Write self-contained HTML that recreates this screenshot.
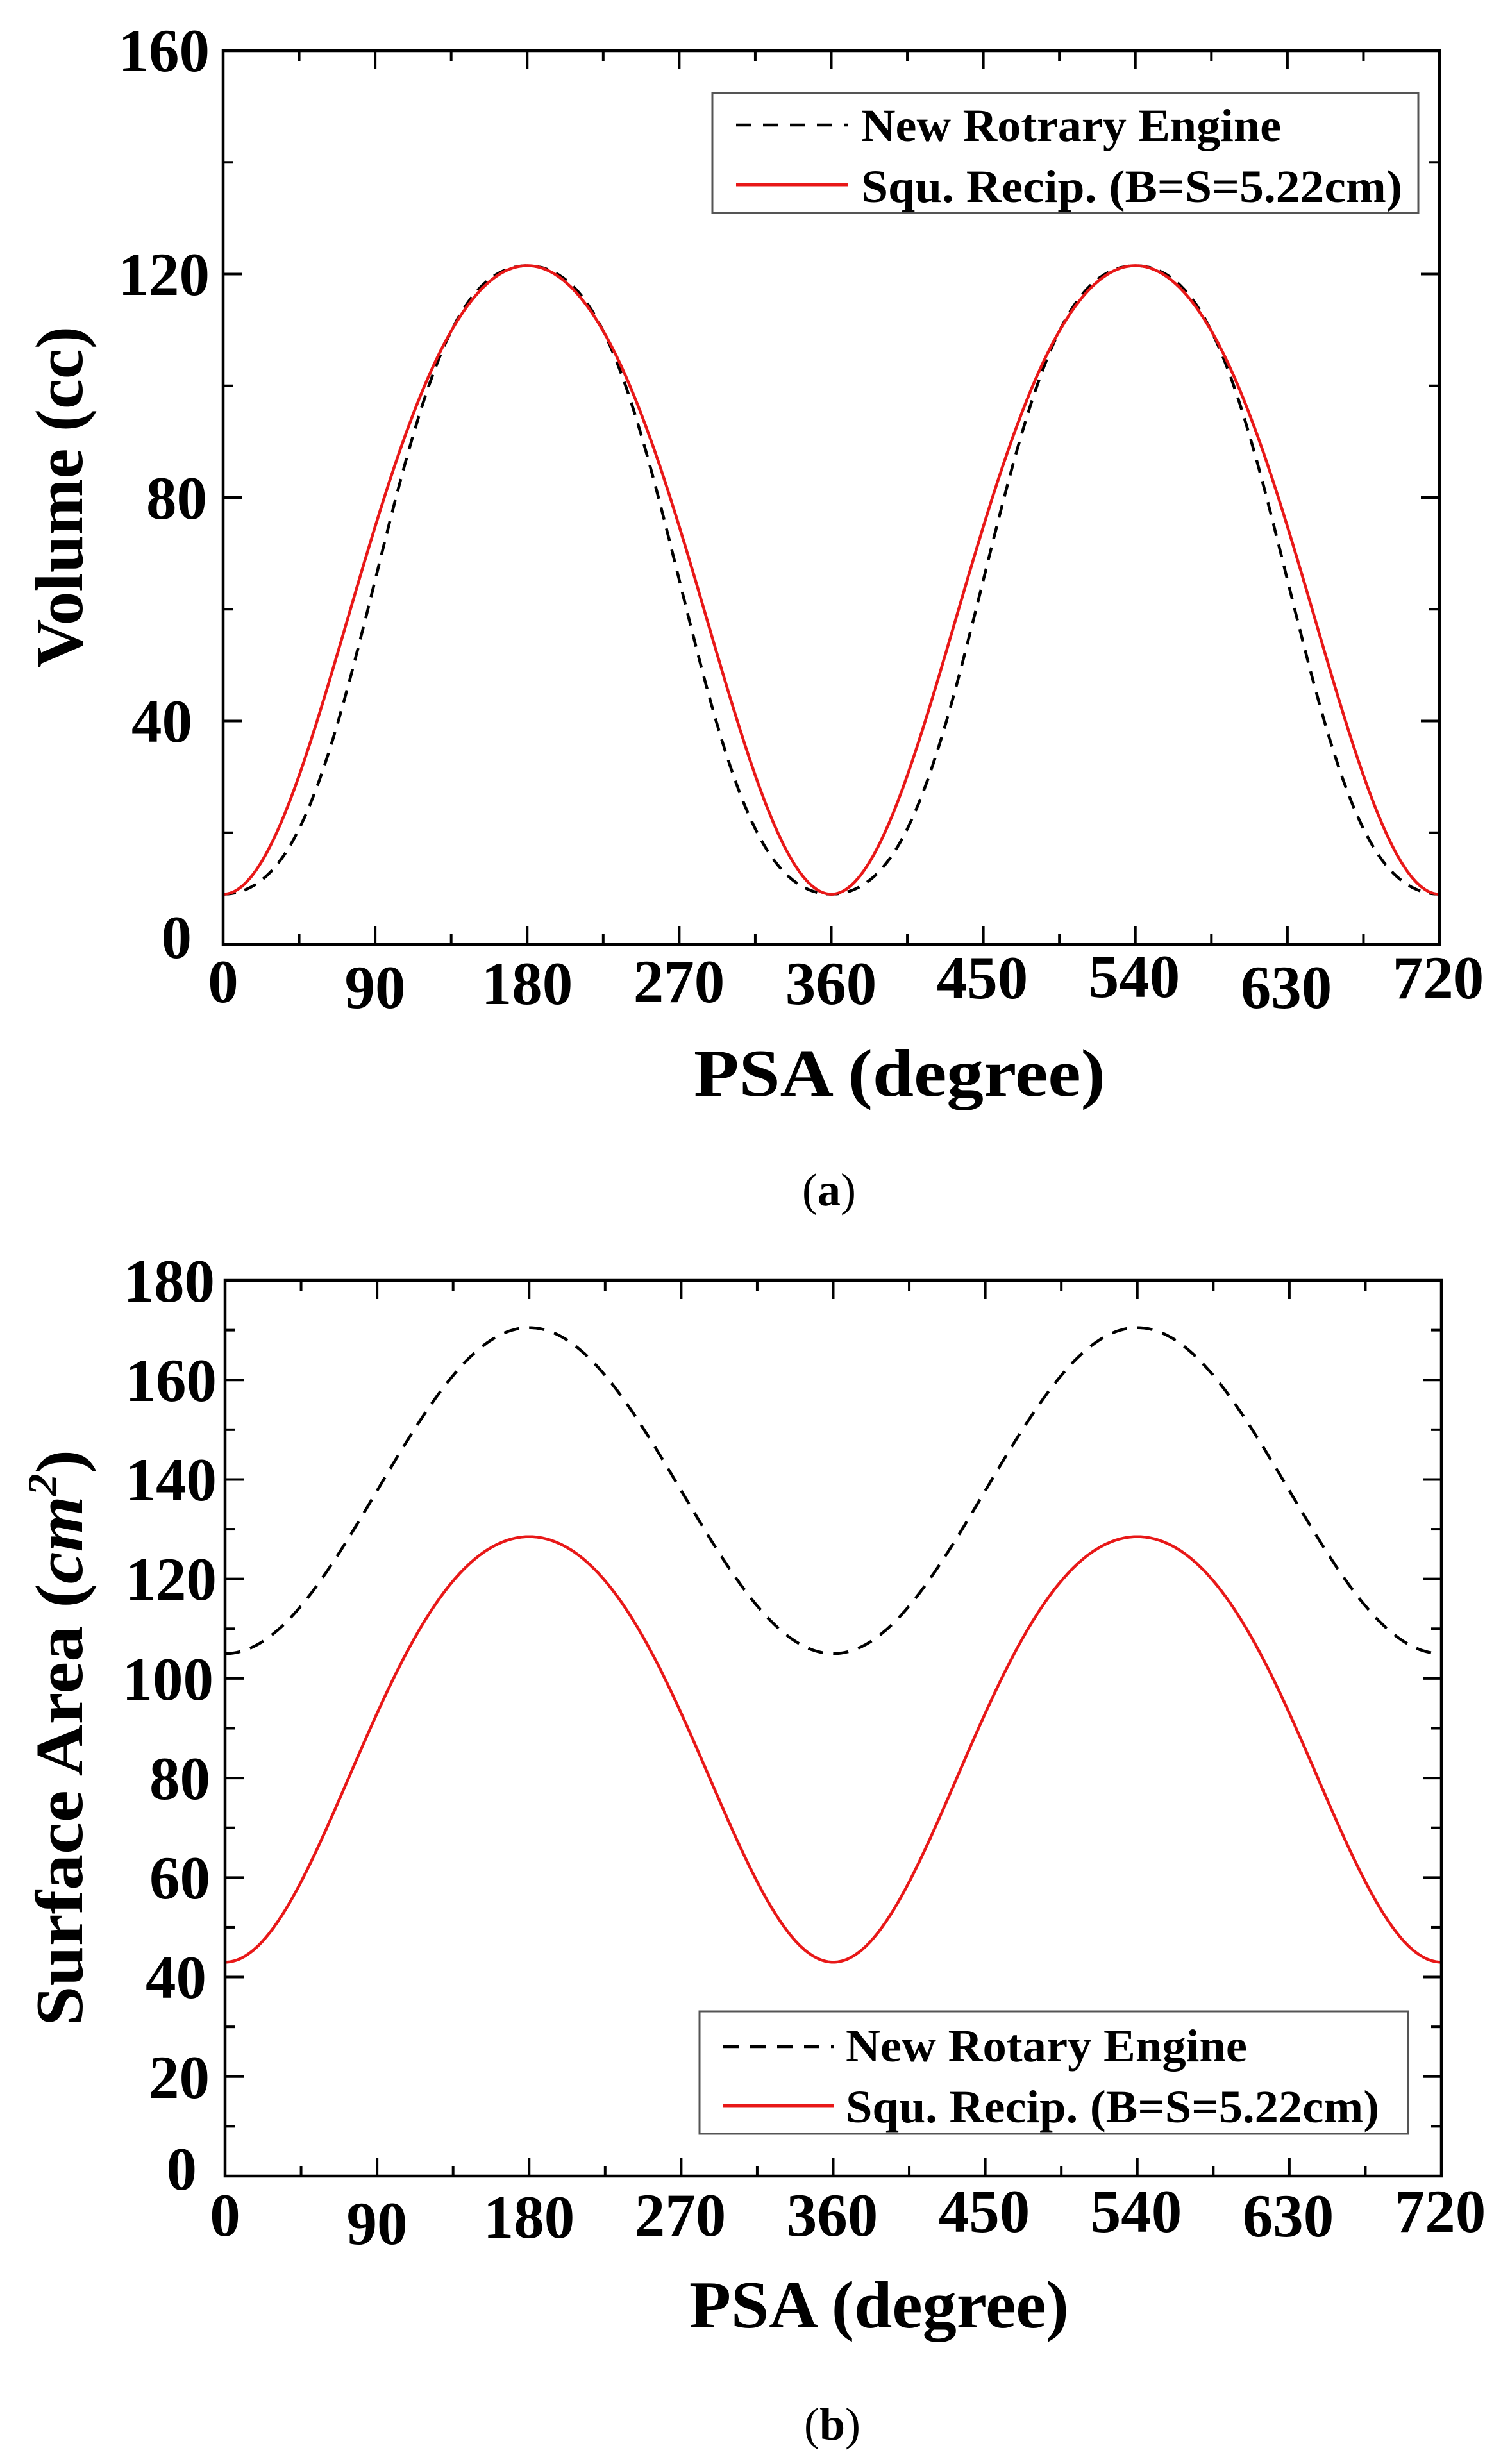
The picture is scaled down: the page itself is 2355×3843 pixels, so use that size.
<!DOCTYPE html>
<html><head><meta charset="utf-8"><style>
html,body{margin:0;padding:0;background:#fff;}
svg{display:block;}
text{font-family:"Liberation Serif",serif;font-weight:bold;fill:#000;}
</style></head><body>
<svg id="s" width="2355" height="3843" viewBox="0 0 2355 3843" xmlns="http://www.w3.org/2000/svg">
<rect width="2355" height="3843" fill="#fff"/>
<g id="g1"></g>
<g font-size="95">
<text x="327" y="111" text-anchor="end">160</text>
<text x="327" y="460" text-anchor="end">120</text>
<text x="323" y="809" text-anchor="end">80</text>
<text x="300" y="1157" text-anchor="end">40</text>
<text x="299" y="1494" text-anchor="end">0</text>
<text x="348" y="1563" text-anchor="middle">0</text>
<text x="585" y="1572" text-anchor="middle">90</text>
<text x="822" y="1566" text-anchor="middle">180</text>
<text x="1059" y="1563" text-anchor="middle">270</text>
<text x="1296" y="1566" text-anchor="middle">360</text>
<text x="1532" y="1557" text-anchor="middle">450</text>
<text x="1769" y="1555" text-anchor="middle">540</text>
<text x="2006" y="1572" text-anchor="middle">630</text>
<text x="2243" y="1557" text-anchor="middle">720</text>
</g>
<text x="1082" y="1709" font-size="105" textLength="642" lengthAdjust="spacingAndGlyphs">PSA (degree)</text>
<text x="128" y="1042" font-size="105" transform="rotate(-90 128 1042)" textLength="533" lengthAdjust="spacingAndGlyphs">Volume (cc)</text>
<text x="1293" y="1880" font-size="72" style="font-weight:normal" text-anchor="middle">(<tspan style="font-weight:bold">a</tspan>)</text>
<rect x="1111" y="145" width="1101" height="187" fill="none" stroke="#555" stroke-width="3"/>
<line x1="1148" y1="195" x2="1322" y2="195" stroke="#000" stroke-width="4.5" stroke-dasharray="24,18"/>
<line x1="1148" y1="288" x2="1322" y2="288" stroke="#e81818" stroke-width="5"/>
<text x="1343" y="220" font-size="72" textLength="655" lengthAdjust="spacingAndGlyphs">New Rotrary Engine</text>
<text x="1343" y="315" font-size="72" textLength="844" lengthAdjust="spacingAndGlyphs">Squ. Recip. (B=S=5.22cm)</text>

<g font-size="95">
<text x="335" y="2030" text-anchor="end">180</text>
<text x="338" y="2185" text-anchor="end">160</text>
<text x="338" y="2340" text-anchor="end">140</text>
<text x="338" y="2495" text-anchor="end">120</text>
<text x="333" y="2651" text-anchor="end">100</text>
<text x="328" y="2806" text-anchor="end">80</text>
<text x="328" y="2961" text-anchor="end">60</text>
<text x="322" y="3116" text-anchor="end">40</text>
<text x="327" y="3272" text-anchor="end">20</text>
<text x="307" y="3415" text-anchor="end">0</text>
<text x="351" y="3487" text-anchor="middle">0</text>
<text x="588" y="3500" text-anchor="middle">90</text>
<text x="825" y="3490" text-anchor="middle">180</text>
<text x="1061" y="3487" text-anchor="middle">270</text>
<text x="1298" y="3487" text-anchor="middle">360</text>
<text x="1535" y="3481" text-anchor="middle">450</text>
<text x="1772" y="3481" text-anchor="middle">540</text>
<text x="2009" y="3488" text-anchor="middle">630</text>
<text x="2246" y="3481" text-anchor="middle">720</text>
</g>
<text x="1075" y="3630" font-size="105" textLength="592" lengthAdjust="spacingAndGlyphs">PSA (degree)</text>
<text x="128" y="3160" font-size="105" transform="rotate(-90 128 3160)" textLength="899" lengthAdjust="spacingAndGlyphs">Surface Area (<tspan font-style="italic">cm</tspan><tspan font-style="italic" font-size="65" dy="-40">2</tspan><tspan dy="40">)</tspan></text>
<text x="1298" y="3805" font-size="72" text-anchor="middle" style="font-weight:normal">(<tspan style="font-weight:bold">b</tspan>)</text>
<rect x="1091" y="3137" width="1105" height="191" fill="none" stroke="#555" stroke-width="3"/>
<line x1="1128" y1="3192" x2="1300" y2="3192" stroke="#000" stroke-width="4.5" stroke-dasharray="24,18"/>
<line x1="1128" y1="3284" x2="1300" y2="3284" stroke="#e81818" stroke-width="5"/>
<text x="1319" y="3215" font-size="72" textLength="626" lengthAdjust="spacingAndGlyphs">New Rotary Engine</text>
<text x="1319" y="3310" font-size="72" textLength="832" lengthAdjust="spacingAndGlyphs">Squ. Recip. (B=S=5.22cm)</text>
</svg>
<script>
(function(){
var g=document.getElementById('g1'),NS='http://www.w3.org/2000/svg';
function el(t,a){var e=document.createElementNS(NS,t);for(var k in a)e.setAttribute(k,a[k]);g.appendChild(e);return e;}
function fr(t){var r=t*Math.PI/180;return (1-Math.cos(r))/2+0.085*Math.pow(Math.sin(r),2);}
function fb(t){var r=t*Math.PI/180;return (1-Math.cos(r))/2-0.12*Math.pow(Math.sin(r),2)*Math.cos(r);}
function fc(t){var r=t*Math.PI/180;return (1-Math.cos(r))/2;}
function plot(L,R,T,B,ymax,minorStep,majorStep,series){
  var W=R-L,H=B-T;
  function X(v){return L+v/720*W;} function Y(v){return B-v/ymax*H;}
  series.forEach(function(s){
    var d='';for(var t=0;t<=720;t+=1){d+=(t?'L':'M')+X(t).toFixed(1)+' '+Y(s.lo+(s.hi-s.lo)*s.f(t)).toFixed(1);}
    var a={d:d,fill:'none',stroke:s.c,'stroke-width':s.w};if(s.dash)a['stroke-dasharray']=s.dash;el('path',a);
  });
  for(var v=0;v<=720;v+=45){var len=(v%90==0)?29:16;var x=X(v);
    el('line',{x1:x,y1:B,x2:x,y2:B-len,stroke:'#000','stroke-width':4});
    el('line',{x1:x,y1:T,x2:x,y2:T+len,stroke:'#000','stroke-width':4});}
  for(var v=0;v<=ymax;v+=minorStep){var len=(Math.abs(v/majorStep-Math.round(v/majorStep))<1e-6)?29:16;var y=Y(v);
    el('line',{x1:L,y1:y,x2:L+len,y2:y,stroke:'#000','stroke-width':4});
    el('line',{x1:R,y1:y,x2:R-len,y2:y,stroke:'#000','stroke-width':4});}
  el('rect',{x:L,y:T,width:W,height:H,fill:'none',stroke:'#000','stroke-width':4.5});
}
plot(348,2245,79,1473,160,20,40,[
 {f:fb,lo:9,hi:121.5,c:'#000',w:4.5,dash:'20,14'},
 {f:fr,lo:9,hi:121.5,c:'#e81818',w:4.5}]);
plot(351,2248,1997,3394,180,10,20,[
 {f:fc,lo:105,hi:170.5,c:'#000',w:4.5,dash:'24,16'},
 {f:fr,lo:43,hi:128.5,c:'#e81818',w:4.5}]);
})();
</script>
</body></html>
